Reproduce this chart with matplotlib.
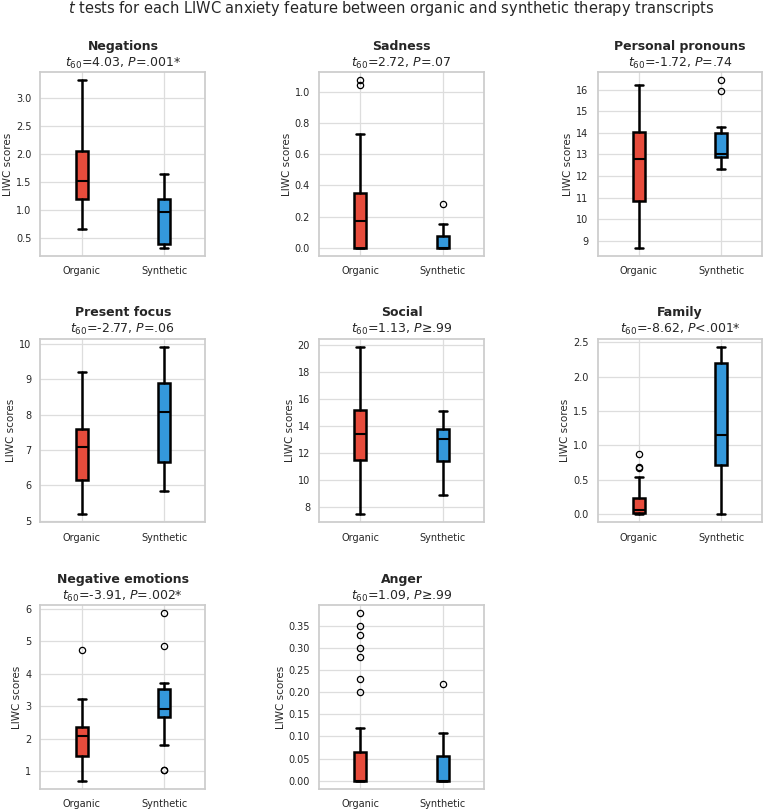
import numpy as np
import matplotlib
matplotlib.use("Agg")
import matplotlib.pyplot as plt
import seaborn as sns

sns.set_theme(style="whitegrid")
plt.rcParams['font.family'] = ['DejaVu Sans']

# LIWC features and the t test results shown above each panel
features = ["Negations", "Sadness", "Personal pronouns", "Present focus",
            "Social", "Family", "Negative emotions", "Anger"]
t_values = ["4.03", "2.72", "-1.72", "-2.77", "1.13", "-8.62", "-3.91", "1.09"]
p_values = ["=.001*", "=.07", "=.74", "=.06", "\u2265.99", "<.001*", "=.002*", "\u2265.99"]
groups = ["Organic", "Synthetic"]

# box statistics: [organic, synthetic]
whislo = [[0.67, 0.33], [0.0, 0.0], [8.68, 12.31], [5.19, 5.84],
          [7.46, 8.84], [0.0, 0.0], [0.71, 1.81], [0.0, 0.0]]
q1 = [[1.20, 0.40], [0.0, 0.0], [10.83, 12.89], [6.15, 6.65],
      [11.46, 11.41], [0.01, 0.72], [1.46, 2.68], [0.0, 0.0]]
med = [[1.51, 0.96], [0.17, 0.0], [12.80, 13.03], [7.10, 8.07],
       [13.41, 12.99], [0.063, 1.15], [2.07, 2.92], [0.0, 0.0]]
q3 = [[2.05, 1.20], [0.353, 0.072], [14.02, 13.97], [7.59, 8.91],
      [15.16, 13.78], [0.237, 2.19], [2.355, 3.54], [0.065, 0.055]]
whishi = [[3.315, 1.64], [0.732, 0.153], [16.20, 14.29], [9.20, 9.92],
          [19.85, 15.11], [0.543, 2.43], [3.21, 3.72], [0.119, 0.109]]
fliers = [[[], []],
          [[1.077, 1.049], [0.281]],
          [[], [16.43, 15.92]],
          [[], []],
          [[], []],
          [[0.877, 0.683, 0.664], []],
          [[4.727], [5.856, 4.87, 1.05, 1.03]],
          [[0.379, 0.351, 0.331, 0.301, 0.281, 0.231, 0.200], [0.22]]]

colors = ["#E74C3C", "#3498DB"]

fig, axes = plt.subplots(3, 3, figsize=(7.64, 8.1), dpi=100)
fig.subplots_adjust(left=0.053, right=0.998, top=0.911, bottom=0.026,
                    wspace=0.69, hspace=0.45)

for i, ax in enumerate(axes.flat):
    if i >= len(features):
        ax.axis("off")
        continue
    stats = []
    for g in range(2):
        stats.append(dict(whislo=whislo[i][g], q1=q1[i][g], med=med[i][g],
                          q3=q3[i][g], whishi=whishi[i][g],
                          fliers=fliers[i][g], label=groups[g]))
    bp = ax.bxp(stats, positions=[0, 1], widths=0.15, capwidths=0.1,
                patch_artist=True,
                boxprops=dict(edgecolor="black", linewidth=1.8),
                medianprops=dict(color="black", linewidth=1.5),
                whiskerprops=dict(color="black", linewidth=1.8),
                capprops=dict(color="black", linewidth=1.8),
                flierprops=dict(marker="o", markerfacecolor="none",
                                markeredgecolor="black", markersize=4.5,
                                markeredgewidth=0.9))
    for patch, c in zip(bp["boxes"], colors):
        patch.set_facecolor(c)
    ax.set_xlim(-0.5, 1.5)
    ax.set_ylabel("LIWC scores", fontsize=7.5, labelpad=2)
    ax.tick_params(axis="y", labelsize=7, pad=0.5)
    ax.tick_params(axis="x", labelsize=7, pad=1.5)
    ax.grid(True, color="#dddddd", linewidth=0.9)
    for s in ax.spines.values():
        s.set_color("#cccccc")
    ax.set_title(r"$t_{60}$=" + t_values[i] + ", $P$" + p_values[i],
                 fontsize=9, pad=4, color="#262626")
    ax.annotate(features[i], xy=(0.5, 1), xycoords="axes fraction",
                xytext=(0, 16), textcoords="offset points", ha="center",
                va="baseline", fontsize=9, fontweight="bold", color="#262626")

fig.text(0.512, 1 - 8 / 810,
         "$t$ tests for each LIWC anxiety feature between organic and synthetic therapy transcripts",
         ha="center", va="center", fontsize=10.5, color="#262626")

fig.savefig("out.png", dpi=100)
